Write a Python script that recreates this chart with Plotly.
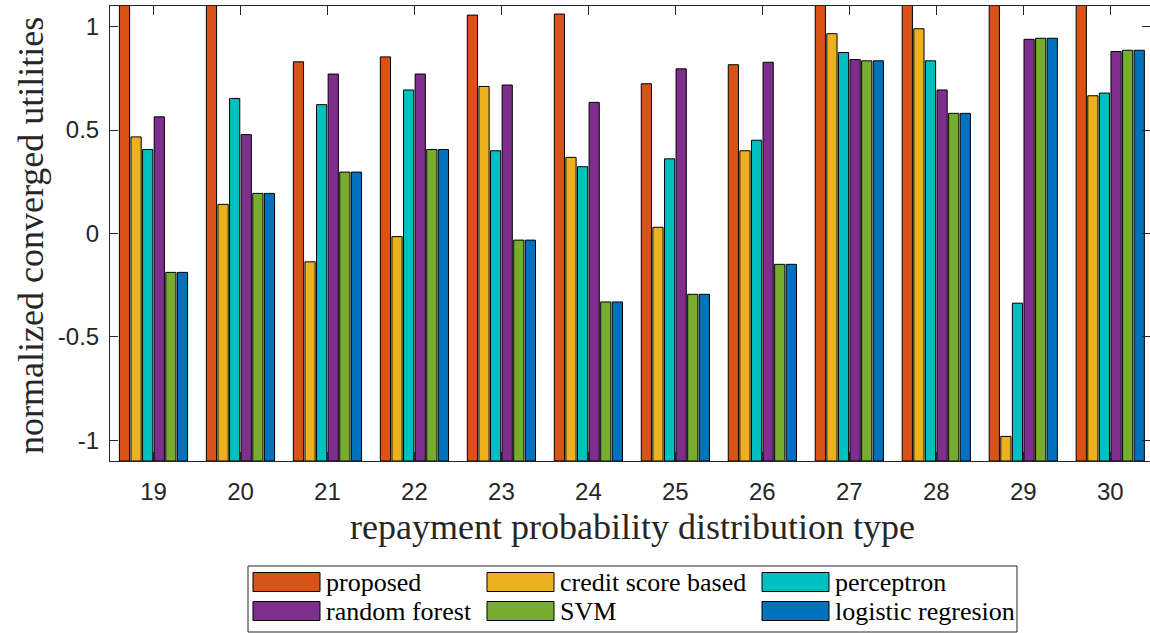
import plotly.graph_objects as go

# Distribution types on the x axis
categories = [19, 20, 21, 22, 23, 24, 25, 26, 27, 28, 29, 30]

# Normalized converged utilities per method
proposed = [1.30, 1.30, 0.830, 0.854, 1.056, 1.061, 0.724, 0.816, 1.30, 1.30, 1.30, 1.30]
credit_score = [0.467, 0.141, -0.137, -0.015, 0.711, 0.368, 0.030, 0.400, 0.966, 0.990, -0.981, 0.666]
perceptron = [0.406, 0.653, 0.623, 0.694, 0.400, 0.323, 0.361, 0.451, 0.875, 0.835, -0.337, 0.679]
random_forest = [0.564, 0.478, 0.771, 0.771, 0.718, 0.634, 0.796, 0.828, 0.841, 0.694, 0.939, 0.880]
svm = [-0.188, 0.194, 0.297, 0.406, -0.032, -0.331, -0.294, -0.149, 0.835, 0.581, 0.944, 0.886]
logistic = [-0.188, 0.194, 0.297, 0.406, -0.032, -0.331, -0.294, -0.149, 0.835, 0.581, 0.944, 0.886]

series_names = ["proposed", "credit score based", "perceptron",
                "random forest", "SVM", "logistic regresion"]
series_values = [proposed, credit_score, perceptron, random_forest, svm, logistic]
series_colors = ["#D95319", "#EDB120", "#00BFBF", "#7E2F8E", "#77AC30", "#0072BD"]

y_tickvals = [-1, -0.5, 0, 0.5, 1]
y_ticktext = ["-1", "-0.5", "0", "0.5", "1"]
y_range = [-1.1, 1.1]

W, H = 1150, 633
L, R, T, B = 110, 0, 6, 172
PW, PH = W - L - R, H - T - B

AX = "#262626"
SERIF = "Liberation Serif, Times New Roman, serif"
SANS = "Liberation Sans, Arial, sans-serif"


def px_x(p):
    return (p - L) / PW


def px_y(p):
    return (H - B - p) / PH


# Bars rise from the lower edge of the value axis up to each value
bar_base = y_range[0]

fig = go.Figure()
for name, vals, col in zip(series_names, series_values, series_colors):
    fig.add_trace(go.Bar(
        x=categories, y=[v - bar_base for v in vals], base=bar_base, name=name,
        marker=dict(color=col, line=dict(color="#000000", width=1)),
        showlegend=False,
    ))

# Legend drawn as a boxed two-row grid with wide swatches
shapes = [dict(type="rect", xref="paper", yref="paper",
               x0=px_x(248), x1=px_x(1017), y0=px_y(632), y1=px_y(566),
               line=dict(color=AX, width=1), fillcolor="white", layer="above")]
annotations = []
col_x = [253, 487, 762]
row_y = [582, 611]
sw_w, sw_h = 67, 19
for i, (name, col) in enumerate(zip(series_names, series_colors)):
    r, c = divmod(i, 3)
    x0 = col_x[c]
    yc = row_y[r]
    shapes.append(dict(type="rect", xref="paper", yref="paper",
                       x0=px_x(x0), x1=px_x(x0 + sw_w),
                       y0=px_y(yc + sw_h / 2), y1=px_y(yc - sw_h / 2),
                       line=dict(color="#000000", width=1), fillcolor=col,
                       layer="above"))
    annotations.append(dict(xref="paper", yref="paper",
                            x=px_x(x0 + sw_w + 4), y=px_y(yc),
                            xanchor="left", yanchor="middle",
                            text=name, showarrow=False,
                            font=dict(family=SERIF, size=26, color="#000000")))

# Axis titles
annotations.append(dict(xref="paper", yref="paper",
                        x=px_x(632), y=px_y(527), xanchor="center", yanchor="middle",
                        text="repayment probability distribution type", showarrow=False,
                        font=dict(family=SERIF, size=36, color=AX)))
annotations.append(dict(xref="paper", yref="paper",
                        x=px_x(31), y=px_y(236), xanchor="center", yanchor="middle",
                        text="normalized converged utilities", textangle=-90,
                        showarrow=False,
                        font=dict(family=SERIF, size=36, color=AX)))

fig.update_layout(
    width=W, height=H,
    margin=dict(l=L, r=R, t=T, b=B, pad=0),
    paper_bgcolor="white", plot_bgcolor="white",
    barmode="group", bargap=0.2, bargroupgap=0.12,
    shapes=shapes, annotations=annotations,
    xaxis=dict(range=[18.5, 18.5 + PW / 86.98], tickvals=categories,
               ticktext=[str(c) for c in categories],
               showgrid=False, zeroline=False,
               showline=True, linecolor=AX, linewidth=1, mirror="allticks",
               ticks="inside", ticklen=9, tickcolor=AX, tickwidth=1,
               ticklabelstandoff=9,
               tickfont=dict(family=SANS, size=24, color=AX)),
    yaxis=dict(range=y_range, tickvals=y_tickvals, ticktext=y_ticktext,
               showgrid=False, zeroline=False,
               showline=True, linecolor=AX, linewidth=1, mirror="allticks",
               ticks="inside", ticklen=8, tickcolor=AX, tickwidth=1,
               ticklabelstandoff=5,
               tickfont=dict(family=SANS, size=24, color=AX)),
)

fig.write_html("out.html")
